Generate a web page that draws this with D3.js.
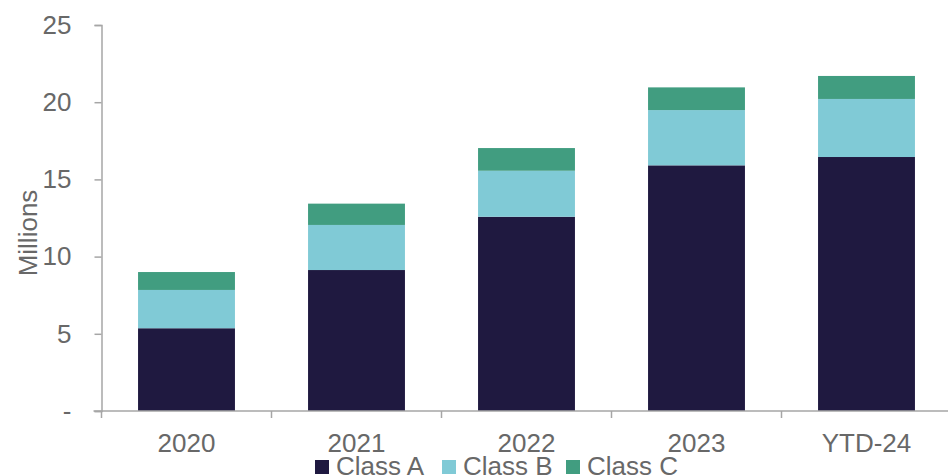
<!DOCTYPE html>
<html>
<head>
<meta charset="utf-8">
<script src="https://cdn.jsdelivr.net/npm/d3@7"></script>
<style>
  html, body { margin: 0; padding: 0; background: #fff; }
  svg { display: block; }
  text { font-family: "Liberation Sans", Arial, sans-serif; fill: #686868; }
</style>
</head>
<body>
<svg id="chart" width="948" height="476"></svg>
<script>
// Stacked totals by year, in millions
const categories = ["2020", "2021", "2022", "2023", "YTD-24"];
const classA = [5.36, 9.13, 12.58, 15.91, 16.45];
const classB = [2.48, 2.92, 2.98, 3.58, 3.76];
const classC = [1.16, 1.38, 1.47, 1.47, 1.49];
const seriesNames = ["Class A", "Class B", "Class C"];
const seriesColors = ["#1f1940", "#80cad6", "#419d80"];
const yTicks = [0, 5, 10, 15, 20, 25];
const yTickLabels = ["-", "5", "10", "15", "20", "25"];

const rows = categories.map((c, i) => ({
  cat: c, "Class A": classA[i], "Class B": classB[i], "Class C": classC[i]
}));

const svg = d3.select("#chart");
const plotLeft = 101.5, plotRight = 951.5, plotTop = 25, plotBottom = 411;
const textColor = "#686868", axisColor = "#a6a6a6";

const x = d3.scaleBand().domain(categories).range([plotLeft, plotRight]).paddingInner(0.43).paddingOuter(0.215);
const xEdge = d3.scaleBand().domain(categories).range([plotLeft, plotRight]);
const y = d3.scaleLinear().domain([0, 25]).range([plotBottom, plotTop]);
const color = d3.scaleOrdinal().domain(seriesNames).range(seriesColors);

const stacked = d3.stack().keys(seriesNames)(rows);

// bars
svg.append("g").selectAll("g").data(stacked).join("g")
  .attr("fill", d => color(d.key))
  .selectAll("rect").data(d => d).join("rect")
  .attr("x", d => x(d.data.cat))
  .attr("width", x.bandwidth())
  .attr("y", d => y(d[1]))
  .attr("height", d => y(d[0]) - y(d[1]));

// y axis
const yAxis = svg.append("g").attr("transform", `translate(${plotLeft},0)`)
  .call(d3.axisLeft(y).tickValues(yTicks).tickSize(7).tickPadding(23)
    .tickFormat((d, i) => yTickLabels[i]));
yAxis.select(".domain").attr("stroke", axisColor).attr("stroke-width", 1.5);
yAxis.selectAll(".tick line").attr("stroke", axisColor).attr("stroke-width", 1.5);
yAxis.selectAll(".tick text").attr("font-size", 26).attr("fill", textColor)
  .attr("font-family", "Liberation Sans, Arial, sans-serif");

// x axis: ticks sit on the category boundaries
const boundaries = categories.map(c => xEdge(c)).concat([plotRight]);
const xg = svg.append("g");
xg.append("line").attr("x1", plotLeft - 8).attr("x2", 948)
  .attr("y1", plotBottom).attr("y2", plotBottom)
  .attr("stroke", axisColor).attr("stroke-width", 1.5);
xg.selectAll("line.tk").data(boundaries).join("line").attr("class", "tk")
  .attr("x1", d => d).attr("x2", d => d)
  .attr("y1", plotBottom).attr("y2", plotBottom + 7)
  .attr("stroke", axisColor).attr("stroke-width", 1.5);
xg.selectAll("text").data(categories).join("text")
  .attr("x", d => xEdge(d) + xEdge.bandwidth() / 2)
  .attr("y", 451.5)
  .attr("text-anchor", "middle")
  .attr("font-size", 26)
  .text(d => d);

// y axis title
svg.append("text")
  .attr("transform", "translate(37,233) rotate(-90)")
  .attr("text-anchor", "middle")
  .attr("font-size", 26)
  .text("Millions");

// legend
const legendX = [315, 442, 566];
const lg = svg.append("g");
const item = lg.selectAll("g").data(seriesNames).join("g")
  .attr("transform", (d, i) => `translate(${legendX[i]},0)`);
item.append("rect").attr("x", 0).attr("y", 460).attr("width", 14).attr("height", 14)
  .attr("fill", d => color(d));
item.append("text").attr("x", 21).attr("y", 475).attr("font-size", 26).text(d => d);
</script>
</body>
</html>
